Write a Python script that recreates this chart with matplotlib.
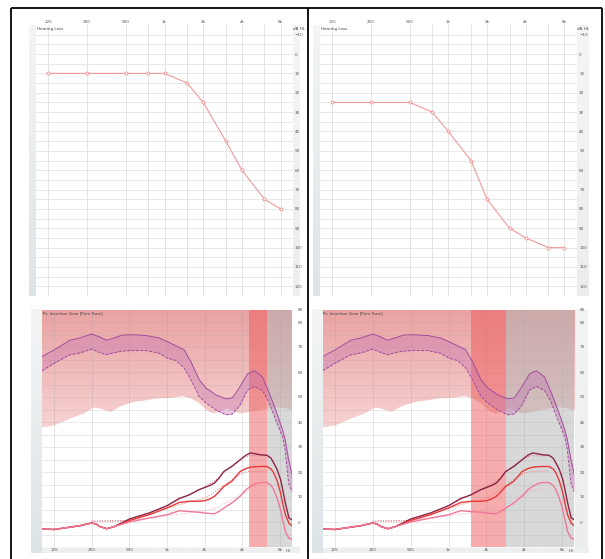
import numpy as np
import matplotlib
matplotlib.use('Agg')
import matplotlib.pyplot as plt
from matplotlib.colors import to_rgb
from matplotlib.ticker import NullLocator

W, H = 605, 559

# audiogram data (dB HL)
aud_freqs = [125, 250, 500, 750, 1000, 1500, 2000, 3000, 4000, 6000, 8000]
left_hl = [10, 10, 10, 10, 10, 15, 25, 45, 60, 75, 80]
right_hl = [25, 25, 25, 30, 40, 55, 75, 90, 95, 100, 100]
aud_grid = [125, 250, 500, 750, 1000, 1500, 2000, 3000, 4000, 6000, 8000]

oct_freqs = [125, 250, 500, 1000, 2000, 4000, 8000]
oct_labels = ['125', '250', '500', '1k', '2k', '4k', '8k']

# insertion gain curves (dB)
gain_freqs = [100, 125, 160, 200, 230, 250, 270, 290, 330, 380, 500, 720, 1000, 1250,
              1500, 1800, 2000, 2200, 2400, 2600, 2850, 3300, 3850, 4300, 4650, 5100,
              5550, 6300, 6800, 7150, 7600, 8100, 8500, 8850, 9450, 10000]
gain_dark = [-2.8, -3.0, -2.2, -1.5, -0.8, -0.4, -0.8, -1.8, -2.7, -1.8, 1.2, 3.6, 6.5,
             9.4, 10.8, 12.9, 13.8, 14.6, 15.6, 17.5, 20.2, 22.2, 24.9, 26.8, 27.6, 27.3,
             26.9, 26.7, 25.5, 23.6, 21.0, 17.0, 12.0, 7.6, 1.6, 0.9]
gain_red = [-2.8, -3.0, -2.2, -1.5, -0.8, -0.4, -0.8, -1.8, -2.7, -1.8, 0.6, 2.9, 5.6,
            7.8, 8.3, 8.3, 8.5, 9.2, 10.3, 12.0, 14.2, 16.3, 20.2, 21.4, 21.9, 22.1,
            22.2, 22.2, 21.2, 19.6, 16.5, 11.6, 6.5, 2.9, -0.5, -1.5]
gain_pink = [-2.8, -3.0, -2.2, -1.5, -0.8, -0.4, -0.8, -1.8, -2.7, -1.8, 0.0, 1.6, 2.9,
             4.5, 4.2, 3.9, 3.6, 3.4, 3.3, 4.2, 5.6, 7.6, 10.3, 13.0, 14.2, 15.3,
             15.8, 15.8, 14.6, 12.9, 9.5, 4.9, 0.0, -3.8, -6.5, -7.0]

target_freqs = [250, 500, 1000, 1500, 2000, 2500, 3000, 4000, 4500, 6300]
target_dark = [0.3, 0.6, 6.5, 11.0, 14.0, 17.0, 21.0, 25.5, 26.5, 26.5]
target_red = [0.3, 0.5, 5.5, 8.0, 9.5, 12.5, 15.5, 19.6, 20.2, 20.5]
target_pink = [0.3, 0.4, 2.5, 3.6, 4.4, 5.6, 8.0, 11.3, 12.5, 13.6]

# purple range (upper solid / lower dashed)
range_freqs = [100, 126, 167, 200, 251, 289, 327, 380, 442, 534, 681, 867, 1000, 1180,
               1370, 1550, 1810, 2050, 2450, 2950, 3330, 3780, 4420, 5000, 5800, 6500,
               7400, 8400, 8800, 9400, 10000]
range_upper = [66.2, 68.9, 72.7, 73.6, 75.2, 74.0, 72.7, 73.7, 74.8, 74.9, 74.6, 73.6,
               72.2, 70.5, 68.9, 64.2, 56.9, 53.6, 50.9, 49.3, 49.6, 53.6, 59.3, 60.5,
               58.0, 52.2, 44.9, 36.9, 33.0, 25.0, 19.0]
range_lower = [60.5, 63.6, 66.9, 67.6, 69.2, 67.8, 66.9, 67.8, 68.4, 68.6, 68.6, 67.5,
               65.6, 64.6, 61.6, 57.0, 50.2, 47.6, 44.9, 42.9, 43.2, 46.2, 52.9, 54.2,
               52.6, 48.2, 40.9, 34.0, 29.0, 15.5, 12.0]

# lower edge of the pink area
bound_freqs = [100, 126, 167, 213, 258, 289, 350, 420, 534, 681, 810, 1100, 1320, 1550,
               1810, 2050, 2320, 2620, 2950, 3330, 3780, 4550, 5800, 7400, 8900, 10000]
bound_vals = [38.0, 38.9, 41.6, 43.6, 46.0, 45.6, 44.2, 46.5, 48.2, 48.9, 49.6, 49.9,
              50.6, 49.6, 47.6, 44.9, 43.6, 44.2, 45.6, 44.9, 43.6, 44.2, 45.2, 46.2,
              45.6, 44.9]

fig = plt.figure(figsize=(W / 100, H / 100), dpi=100)


def px_axes(x0, y0, x1, y1):
    return fig.add_axes([x0 / W, 1 - y1 / H, (x1 - x0) / W, (y1 - y0) / H])


def grad(c_top, c_bot, n=64):
    t = np.linspace(0, 1, n)[:, None, None]
    return (1 - t) * np.array(to_rgb(c_top)) + t * np.array(to_rgb(c_bot))


bg = fig.add_axes([0, 0, 1, 1])
bg.set_zorder(0)
bg.axis('off')


def strip(x0, x1, y0, y1, c_top, c_bot):
    bg.imshow(grad(c_top, c_bot), extent=[x0, x1, y1, y0], origin='upper',
              aspect='auto', interpolation='bilinear')


# side strips
strip(29, 36, 25, 296, '#f3f5f5', '#dde4e7')
strip(293, 300, 25, 296, '#f4f5f5', '#eceeee')
strip(313, 320, 25, 296, '#f3f5f5', '#dde4e7')
strip(576.7, 588, 25, 296, '#f4f5f5', '#eceeee')
strip(31, 42, 309.5, 553, '#f3f5f5', '#dde4e7')
strip(42, 300, 547, 553, '#eef0f0', '#eef0f0')
strip(312, 322.7, 309.5, 553, '#f3f5f5', '#dde4e7')
strip(322.7, 588, 547, 553, '#eef0f0', '#eef0f0')
strip(574.3, 588, 309.5, 547, '#f2f3f3', '#eceeee')

# frame
for xs, ys in [([11, 11], [8, H + 2]), ([11, 602], [8, 8]),
               ([602, 602], [8, H + 2]), ([307.5, 307.5], [8, H + 2])]:
    bg.plot(xs, ys, color='black', lw=1.3, solid_capstyle='butt')
bg.set_xlim(0, W)
bg.set_ylim(H, 0)


def audiogram(rect, hl, ypad):
    ax = px_axes(*rect)
    ax.set_zorder(2)
    ax.set_facecolor('white')
    ax.set_xscale('log')
    ax.set_xlim(100, 10000)
    ax.set_ylim(125, -15)
    for f in aud_grid:
        ax.axvline(f, color='#e0e0e0', lw=0.6, zorder=1)
    for v in range(-10, 125, 5):
        ax.axhline(v, color='#e4e4e4', lw=0.6, zorder=1)
    ax.plot(aud_freqs, hl, color='#f29a9a', lw=0.8, marker='o', ms=2.3,
            mfc='#fde6e6', mec='#ee8888', mew=0.5, zorder=3)
    ax.xaxis.tick_top()
    ax.yaxis.tick_right()
    ax.set_xticks(oct_freqs)
    ax.set_xticklabels(oct_labels)
    ax.xaxis.set_minor_locator(NullLocator())
    ax.set_yticks(range(-10, 121, 10))
    ax.tick_params(axis='x', length=0, labelsize=3, labelcolor='#555555', pad=0.8)
    ax.tick_params(axis='y', length=0, labelsize=3, labelcolor='#555555', pad=ypad)
    for s in ax.spines.values():
        s.set_visible(False)
    ax.text(0.003, 0.992, 'Hearing Loss', transform=ax.transAxes, fontsize=3,
            color='#444444', va='top', ha='left')
    ax.text(1.0, 0.992, 'dB HL', transform=ax.transAxes, fontsize=3,
            color='#444444', va='top', ha='left')
    return ax


def gain_panel(rect, band, gray_start):
    bgx = px_axes(*rect)
    bgx.set_zorder(1)
    bgx.axis('off')
    bgx.imshow(grad('#e9a2a2', '#f7d2d2'), extent=[0, 1, 38, 85], origin='upper',
               aspect='auto', interpolation='bilinear')
    bgx.set_xlim(0, 1)
    bgx.set_ylim(-10, 85)

    ax = px_axes(*rect)
    ax.set_zorder(2)
    ax.patch.set_visible(False)
    ax.set_xscale('log')
    ax.set_xlim(100, 10000)
    ax.set_ylim(-10, 85)
    ax.fill_between(bound_freqs, bound_vals, -10, color='white', lw=0, zorder=1)
    for f in oct_freqs:
        ax.axvline(f, color='#a0a0a0', alpha=0.3, lw=0.6, zorder=1.5)
    for v in range(-5, 85, 5):
        ax.axhline(v, color='#a0a0a0', alpha=0.25, lw=0.6, zorder=1.5)
    ax.axvspan(band[0], band[1], color='#ee5a5a', alpha=0.5, lw=0, zorder=2)
    ax.axvspan(gray_start, 10000, color='#b2b2b2', alpha=0.5, lw=0, zorder=2)

    ax.fill_between(range_freqs, range_lower, range_upper, color='#c070b0',
                    alpha=0.36, lw=0, zorder=3)
    ax.plot(range_freqs, range_upper, color='#a04c9c', lw=0.7, zorder=3.5,
            solid_joinstyle='round')
    ax.plot(range_freqs, range_lower, color='#a04c9c', lw=0.7, ls=(0, (3, 1.5)),
            zorder=3.5)

    ax.plot(target_freqs, target_dark, color='#c07090', lw=0.7, ls=':', zorder=4)
    ax.plot(target_freqs, target_red, color='#f07070', lw=0.7, ls=':', zorder=4)
    ax.plot(target_freqs, target_pink, color='#f5a8bc', lw=0.7, ls=':', zorder=4)
    ax.plot(gain_freqs, gain_dark, color='#8e2446', lw=1.0, zorder=5,
            solid_joinstyle='round')
    ax.plot(gain_freqs, gain_red, color='#e6393a', lw=1.0, zorder=5,
            solid_joinstyle='round')
    ax.plot(gain_freqs, gain_pink, color='#f07898', lw=1.0, zorder=5,
            solid_joinstyle='round')

    ax.yaxis.tick_right()
    ax.set_xticks(oct_freqs)
    ax.set_xticklabels(oct_labels)
    ax.xaxis.set_minor_locator(NullLocator())
    ax.set_yticks(list(range(0, 81, 10)) + [85])
    ax.tick_params(axis='x', length=0, labelsize=3, labelcolor='#555555', pad=0.8)
    ax.tick_params(axis='y', length=0, labelsize=3, labelcolor='#555555', pad=4)
    for s in ax.spines.values():
        s.set_visible(False)
    ax.text(9400, -10.6, 'Hz', fontsize=3, color='#555555', ha='center', va='top')
    ax.text(0.003, 0.993, 'Pt. Insertion Gain [Pure Tone]', transform=ax.transAxes,
            fontsize=3, color='#444444', va='top', ha='left')
    return ax


audiogram((36, 25, 293, 296), left_hl, 1.0)
audiogram((320, 25, 576.7, 296), right_hl, 1.8)
gain_panel((42, 309.5, 292, 547), (4530, 6300), 6300)
gain_panel((322.7, 309.5, 574.3, 547), (1500, 2860), 2860)

fig.savefig('out.png', dpi=100, facecolor='white')
